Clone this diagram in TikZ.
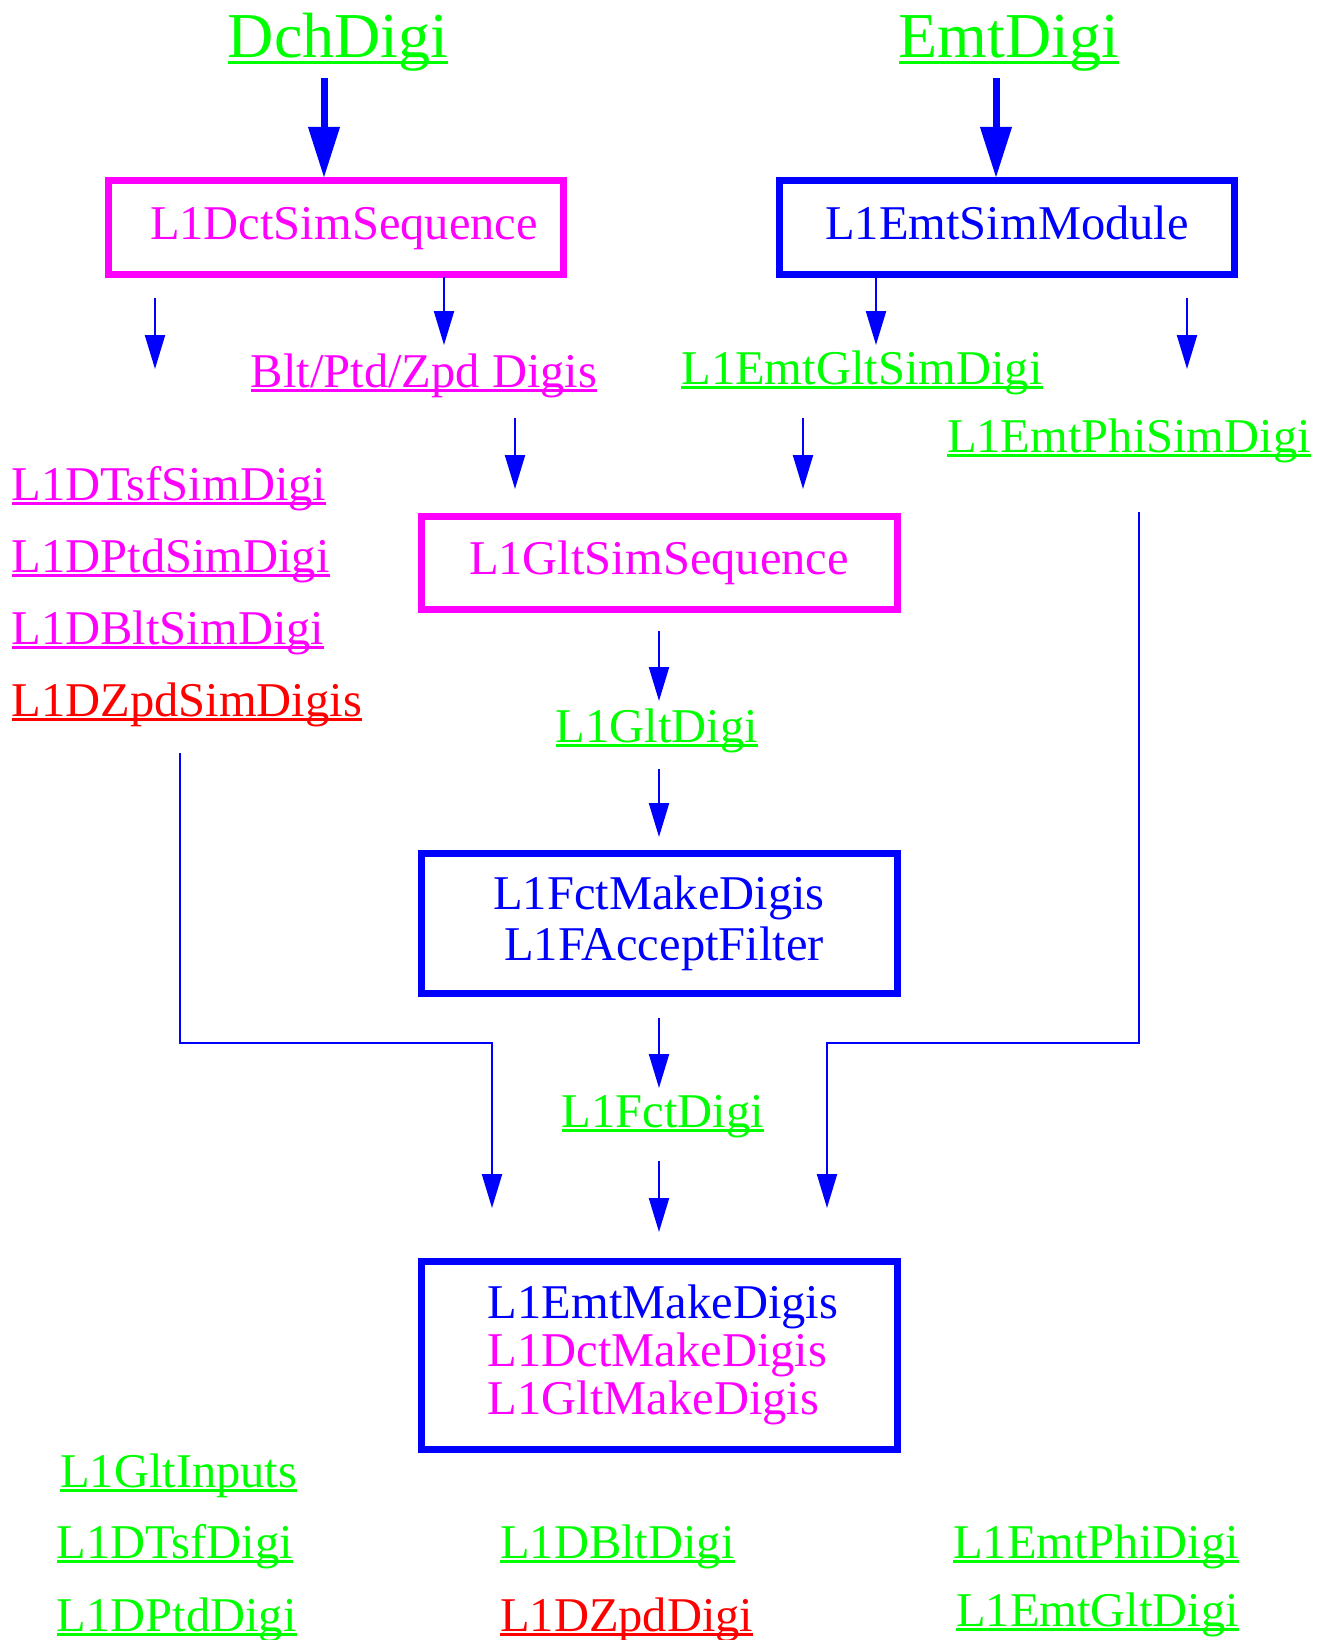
\documentclass[tikz,border=0pt]{standalone}
\usepackage{fontspec}
\setmainfont{Liberation Serif}
\usetikzlibrary{arrows.meta}
\definecolor{cgreen}{RGB}{0,255,0}
\definecolor{cmag}{RGB}{255,0,255}
\definecolor{cblue}{RGB}{0,0,255}
\definecolor{cred}{RGB}{255,0,0}
\newcommand\ulin[1]{\setbox0\hbox{#1}\rlap{\rule[-0.1em]{\wd0}{0.05em}}\box0}
\begin{document}
\begin{tikzpicture}[x=1pt,y=-1pt,
  lbl/.style={inner sep=0pt, anchor=base, font=\fontsize{48.5}{51}\selectfont},
  lblw/.style={lbl, anchor=base west},
  bigl/.style={inner sep=0pt, anchor=base, font=\fontsize{64}{70}\selectfont},
  boxn/.style={draw, line width=7pt, inner sep=0pt, minimum width=476pt, font=\fontsize{48.5}{51}\selectfont},
  onel/.style={text height=34pt, text depth=10.7pt},
  arr/.style={draw=cblue, line width=2.2pt, -{Triangle[length=34pt,width=20pt]}},
  thickarr/.style={draw=cblue, line width=7pt, -{Triangle[length=51pt,width=30pt]}}]
\useasboundingbox (0,0) rectangle (1325,1640);

% top labels
\node[bigl, text=cgreen] (dch) at (338,57.5) {\ulin{DchDigi}};
\node[bigl, text=cgreen] (emt) at (1009,57.5) {\ulin{EmtDigi}};

% boxes
\node[boxn, onel, draw=cmag, text=cmag, minimum width=455pt, minimum height=93pt] (dctseq) at (336,227.5) {\hspace{16pt}L1DctSimSequence};
\node[boxn, onel, draw=cblue, text=cblue, minimum width=455pt, minimum height=93pt] (emtmod) at (1007,227.5) {L1EmtSimModule};
\node[boxn, onel, draw=cmag, text=cmag, minimum height=93pt] (gltseq) at (659,563) {L1GltSimSequence};
\node[boxn, draw=cblue, text=cblue, minimum height=140pt, align=center, font=\fontsize{48.5}{51}\selectfont] (fct) at (659,923) {L1FctMakeDigis\\\hspace{10pt}L1FAcceptFilter};
\node[boxn, draw=cblue, minimum height=188pt, align=left, font=\fontsize{48.5}{48}\selectfont] (mk) at (659,1355) {\hspace*{8pt}{\color{cblue}L1EmtMakeDigis}\\\hspace*{8pt}{\color{cmag}L1DctMakeDigis}\\\hspace*{8pt}{\color{cmag}L1GltMakeDigis}};

% intermediate labels
\node[lbl, text=cmag] (blt) at (424,387) {\ulin{Blt/Ptd/Zpd Digis}};
\node[lbl, text=cgreen] (emtglt) at (862,384) {\ulin{L1EmtGltSimDigi}};
\node[lbl, text=cgreen] (emtphi) at (1129,452) {\ulin{L1EmtPhiSimDigi}};
\node[lblw, text=cmag] (tsfsim) at (11.5,500) {\ulin{L1DTsfSimDigi}};
\node[lblw, text=cmag] (ptdsim) at (11.5,572) {\ulin{L1DPtdSimDigi}};
\node[lblw, text=cmag] (bltsim) at (11.5,644) {\ulin{L1DBltSimDigi}};
\node[lblw, text=cred] (zpdsim) at (11.5,716) {\ulin{L1DZpdSimDigis}};
\node[lbl, text=cgreen] (gltdigi) at (657,742) {\ulin{L1GltDigi}};
\node[lbl, text=cgreen] (fctdigi) at (663,1127) {\ulin{L1FctDigi}};

% bottom labels
\node[lblw, text=cgreen] (gltin) at (60,1487) {\ulin{L1GltInputs}};
\node[lblw, text=cgreen] (tsfd) at (56.5,1558) {\ulin{L1DTsfDigi}};
\node[lblw, text=cgreen] (ptdd) at (56.5,1631) {\ulin{L1DPtdDigi}};
\node[lblw, text=cgreen] (bltd) at (500,1558) {\ulin{L1DBltDigi}};
\node[lblw, text=cred] (zpdd) at (500,1631) {\ulin{L1DZpdDigi}};
\node[lblw, text=cgreen] (emtphid) at (953,1558) {\ulin{L1EmtPhiDigi}};
\node[lblw, text=cgreen] (emtgltd) at (956,1626) {\ulin{L1EmtGltDigi}};

% arrow end coordinates
\coordinate (t1s) at (324,78);   \coordinate (t1e) at (324,178);
\coordinate (t2s) at (996,78);   \coordinate (t2e) at (996,178);
\coordinate (a1s) at (155,298);  \coordinate (a1e) at (155,369);
\coordinate (a2s) at (444,277);  \coordinate (a2e) at (444,345);
\coordinate (a3s) at (876,277);  \coordinate (a3e) at (876,345);
\coordinate (a4s) at (1187,298); \coordinate (a4e) at (1187,369);
\coordinate (a5s) at (515,418);  \coordinate (a5e) at (515,489);
\coordinate (a6s) at (803,418);  \coordinate (a6e) at (803,489);
\coordinate (a7s) at (659,631);  \coordinate (a7e) at (659,701);
\coordinate (a8s) at (659,769);  \coordinate (a8e) at (659,837);
\coordinate (a9s) at (659,1018); \coordinate (a9e) at (659,1088);
\coordinate (a10s) at (659,1161); \coordinate (a10e) at (659,1232);
\coordinate (ls) at (180,753);   \coordinate (le) at (492,1208);
\coordinate (rs) at (1139,512);  \coordinate (re) at (827,1208);

\draw[thickarr] (t1s) -- (t1e);
\draw[thickarr] (t2s) -- (t2e);
\draw[arr] (a1s) -- (a1e);
\draw[arr] (a2s) -- (a2e);
\draw[arr] (a3s) -- (a3e);
\draw[arr] (a4s) -- (a4e);
\draw[arr] (a5s) -- (a5e);
\draw[arr] (a6s) -- (a6e);
\draw[arr] (a7s) -- (a7e);
\draw[arr] (a8s) -- (a8e);
\draw[arr] (a9s) -- (a9e);
\draw[arr] (a10s) -- (a10e);
\draw[arr] (ls) -- (180,1043) -- (492,1043) -- (le);
\draw[arr] (rs) -- (1139,1043) -- (827,1043) -- (re);
\end{tikzpicture}
\end{document}
